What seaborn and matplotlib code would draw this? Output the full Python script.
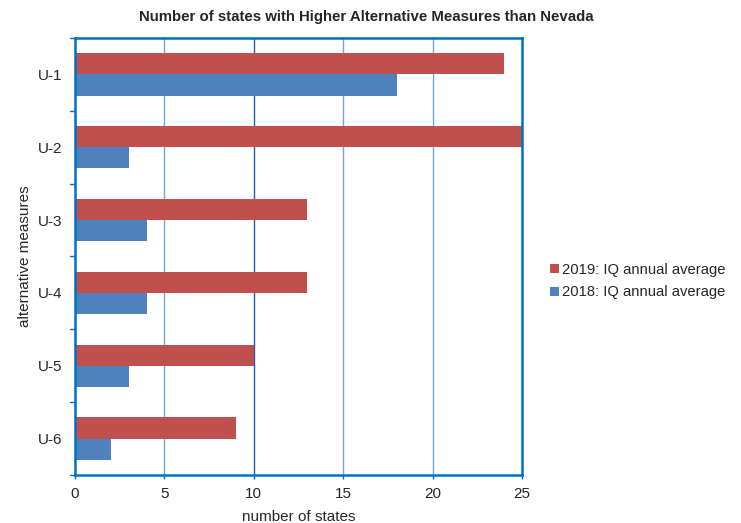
import matplotlib
matplotlib.use("Agg")
import matplotlib.pyplot as plt
import pandas as pd
import seaborn as sns

# data
measures = ["U-1", "U-2", "U-3", "U-4", "U-5", "U-6"]
states_2019 = [24, 25, 13, 13, 10, 9]
states_2018 = [18, 3, 4, 4, 3, 2]
series_names = ["2019: IQ annual average", "2018: IQ annual average"]
x_ticks = [0, 5, 10, 15, 20, 25]

df = pd.DataFrame({
    "measure": measures * 2,
    "states": states_2019 + states_2018,
    "series": [series_names[0]] * len(measures) + [series_names[1]] * len(measures),
})

sns.set_style("white")
plt.rcParams["font.family"] = ["Liberation Sans", "DejaVu Sans"]

fig = plt.figure(figsize=(7.41, 5.23), dpi=100)
ax = fig.add_axes([0.1012, 0.0918, 0.6033, 0.8356])

sns.barplot(
    data=df, x="states", y="measure", hue="series",
    order=measures, hue_order=series_names,
    palette=["#C0504D", "#4F81BD"],
    orient="h", width=0.58, saturation=1, linewidth=0,
    ax=ax, legend=True, zorder=2,
)

ax.set_xlim(0, 25)
ax.set_ylim(len(measures) - 0.5, -0.5)
ax.set_xticks(x_ticks)
ax.set_xticklabels([str(t) for t in x_ticks], fontsize=11)

# gridlines (the 10 line is darker in the source)
for t in [5, 15, 20]:
    ax.axvline(t, color="#6FA8DC", lw=1.0, zorder=0)
ax.axvline(10, color="#1F5FA8", lw=1.0, zorder=0)

# category labels with ticks on the boundaries
ax.set_yticks(range(len(measures)))
ax.set_yticklabels(measures, fontsize=11)
ax.tick_params(axis="y", length=0, pad=9)
for b in [i - 0.5 for i in range(len(measures) + 1)]:
    ax.plot([-0.012, 0], [b, b], transform=ax.get_yaxis_transform(),
            color="#0070C0", lw=1.0, clip_on=False)
ax.tick_params(axis="x", length=3, width=1.0, color="#0070C0", direction="out", bottom=True, pad=6)

for s in ax.spines.values():
    s.set_color("#0070C0")
    s.set_linewidth(1.8)

ax.set_xlabel("number of states", fontsize=11, labelpad=6)
ax.set_ylabel("alternative measures", fontsize=11, labelpad=4)

fig.text(0.494, 0.967, "Number of states with Higher Alternative Measures than Nevada",
         ha="center", va="center", fontsize=10.8, fontweight="bold")

handles, labels = ax.get_legend_handles_labels()
ax.legend(handles, labels, loc="center left", bbox_to_anchor=(1.062, 0.444),
          frameon=False, fontsize=10.6, handlelength=0.6, handleheight=0.6,
          handletextpad=0.25, labelspacing=0.6, borderaxespad=0, borderpad=0)

fig.savefig("out.png", dpi=100)
